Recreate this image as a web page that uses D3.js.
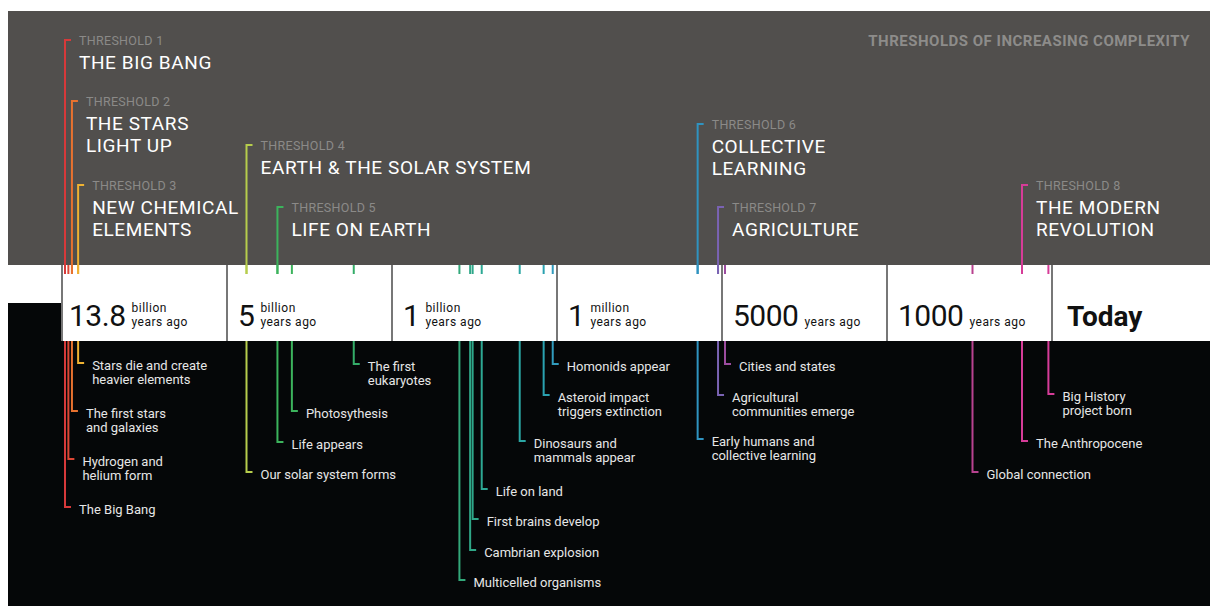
<!DOCTYPE html>
<html>
<head>
<meta charset="utf-8">
<script src="https://cdn.jsdelivr.net/npm/d3@7"></script>
<style>
  html, body { margin: 0; padding: 0; background: #fff; }
  svg text { font-family: Roboto, "Open Sans", sans-serif; }
</style>
</head>
<body>
<div id="chart"></div>
<script>
// timeline segments (years ago) and their labels
var segmentAgo = [13.8e9, 5e9, 1e9, 1e6, 5000, 1000, 0];
var segmentNumber = ["13.8", "5", "1", "1", "5000", "1000", "Today"];
var segmentUnit = ["billion", "billion", "billion", "million", "", "", ""];

// thresholds
var thresholdNames = ["THE BIG BANG", "THE STARS|LIGHT UP", "NEW CHEMICAL|ELEMENTS",
  "EARTH & THE SOLAR SYSTEM", "LIFE ON EARTH", "COLLECTIVE|LEARNING", "AGRICULTURE",
  "THE MODERN|REVOLUTION"];
var thresholdAgo = [13.8e9, 13.43e9, 13.1e9, 4.6e9, 3.85e9, 170000, 47000, 200];

// events below the timeline
var eventNames = ["The Big Bang", "Hydrogen and|helium form", "The first stars|and galaxies",
  "Stars die and create|heavier elements", "Our solar system forms", "Life appears",
  "Photosythesis", "The first|eukaryotes", "Multicelled organisms", "Cambrian explosion",
  "First brains develop", "Life on land", "Dinosaurs and|mammals appear",
  "Asteroid impact|triggers extinction", "Homonids appear", "Early humans and|collective learning",
  "Agricultural|communities emerge", "Cities and states", "Global connection",
  "The Anthropocene", "Big History|project born"];
var eventAgo = [13.8e9, 13.62e9, 13.43e9, 13.1e9, 4.6e9, 3.85e9, 3.5e9, 2e9,
  610e6, 545e6, 530e6, 475e6, 245e6, 100e6, 45e6, 170000, 47000, 5000, 500, 200, 40];

// --- layout / style ---
var W = 1210, H = 606;
var SEG_X0 = 62, SEG_W = 165;
var BAND_TOP = 265, BAND_BOT = 341;
var MARK_DX = 3;

var thresholdColor = ["#d6393a", "#e8722f", "#efb232", "#b6cd4c", "#3cb35c", "#2f93c0", "#7a63b3", "#d63c98"];
var thresholdLabelY = [40, 101, 185, 145, 207, 124, 207, 185];

var eventColor = ["#d6393a", "#dc4634", "#e8722f", "#efb232", "#b6cd4c", "#3cb35c", "#3cb35c", "#34ad68",
  "#33a87a", "#2fa787", "#2fa78a", "#2da894", "#2ba6a3", "#2aa1b0", "#319bbd", "#2f93c0",
  "#7a63b3", "#9c4c9f", "#b8428f", "#d63c98", "#d63c98"];
var eventLabelY = [507, 459, 411, 363, 472, 442, 411, 364, 580, 550, 519, 489, 441, 395, 364,
  439, 395, 364, 472, 441, 394];

var x = d3.scaleLinear()
  .domain(segmentAgo)
  .range(segmentAgo.map(function(d, i) { return SEG_X0 + i * SEG_W; }));
var mx = function(ago) { return x(ago) + MARK_DX; };

var svg = d3.select("#chart").append("svg").attr("width", W).attr("height", H);

// panels
svg.append("rect").attr("x", 8).attr("y", 11).attr("width", W - 8).attr("height", BAND_TOP - 11).attr("fill", "#514f4d");
svg.append("rect").attr("x", 8).attr("y", 303).attr("width", W - 8).attr("height", H - 303).attr("fill", "#050708");
svg.append("rect").attr("x", SEG_X0).attr("y", BAND_TOP).attr("width", W - SEG_X0).attr("height", BAND_BOT - BAND_TOP).attr("fill", "#fff");

svg.append("text").attr("x", 1190).attr("y", 46).attr("text-anchor", "end")
  .attr("fill", "#8d8c8a").attr("font-size", 15).attr("font-weight", "bold")
  .attr("letter-spacing", 0.5)
  .text("THRESHOLDS OF INCREASING COMPLEXITY");

// segment dividers and labels
var seg = svg.append("g").selectAll("g").data(segmentAgo).enter().append("g");
seg.append("line")
  .attr("x1", function(d) { return x(d); }).attr("x2", function(d) { return x(d); })
  .attr("y1", BAND_TOP).attr("y2", BAND_BOT)
  .attr("stroke", "#777").attr("stroke-width", 2);
seg.each(function(d, i) {
  var g = d3.select(this);
  var x0 = x(d) + (i === 0 ? 7 : i === 6 ? 15 : 11);
  var num = g.append("text").attr("x", x0).attr("y", 326).attr("fill", "#111")
    .attr("font-size", i === 6 ? 28 : 30).attr("font-weight", i === 6 ? "bold" : "normal")
    .attr("letter-spacing", i === 6 ? 0 : -0.5)
    .text(segmentNumber[i]);
  if (i === 6) return;
  var ux = x0 + num.node().getComputedTextLength() + 6;
  var unit = g.append("text").attr("x", ux).attr("y", segmentUnit[i] ? 312 : 326)
    .attr("fill", "#111").attr("font-size", 12).attr("letter-spacing", 0.5);
  var parts = segmentUnit[i] ? [segmentUnit[i], "years ago"] : ["years ago"];
  unit.selectAll("tspan").data(parts).enter().append("tspan")
    .attr("x", ux).attr("dy", function(p, j) { return j ? 14 : 0; })
    .text(function(p) { return p; });
});

// threshold lines and labels
var th = svg.append("g").selectAll("g").data(thresholdAgo).enter().append("g");
th.append("path")
  .attr("d", function(d, i) {
    var px = mx(d), py = thresholdLabelY[i];
    return "M" + (px + 6) + "," + py + "H" + px + "V" + (BAND_TOP + 9);
  })
  .attr("fill", "none").attr("stroke-width", 2)
  .attr("stroke", function(d, i) { return thresholdColor[i]; });
th.append("text")
  .attr("x", function(d) { return mx(d) + 14; })
  .attr("y", function(d, i) { return thresholdLabelY[i] + 5; })
  .attr("fill", "#8b8a88").attr("font-size", 12.5).attr("letter-spacing", 0.3)
  .text(function(d, i) { return "THRESHOLD " + (i + 1); });
th.each(function(d, i) {
  var lines = thresholdNames[i].split("|");
  var t = d3.select(this).append("text")
    .attr("x", mx(d) + 14).attr("y", thresholdLabelY[i] + 29)
    .attr("fill", "#fff").attr("font-size", 19).attr("letter-spacing", 0.6);
  t.selectAll("tspan").data(lines).enter().append("tspan")
    .attr("x", mx(d) + 14).attr("dy", function(l, j) { return j ? 22 : 0; })
    .text(function(l) { return l; });
});

// event ticks, lines and labels
var ev = svg.append("g").selectAll("g").data(eventAgo).enter().append("g");
ev.append("line")
  .attr("x1", function(d) { return mx(d); }).attr("x2", function(d) { return mx(d); })
  .attr("y1", BAND_TOP).attr("y2", BAND_TOP + 9)
  .attr("stroke-width", 2).attr("stroke", function(d, i) { return eventColor[i]; });
ev.append("path")
  .attr("d", function(d, i) {
    var px = mx(d), py = eventLabelY[i];
    return "M" + px + "," + BAND_BOT + "V" + py + "H" + (px + 6);
  })
  .attr("fill", "none").attr("stroke-width", 2)
  .attr("stroke", function(d, i) { return eventColor[i]; });
ev.each(function(d, i) {
  var lines = eventNames[i].split("|");
  var t = d3.select(this).append("text")
    .attr("x", mx(d) + 14).attr("y", eventLabelY[i] + 6.5)
    .attr("fill", "#e6e6e6").attr("font-size", 13);
  t.selectAll("tspan").data(lines).enter().append("tspan")
    .attr("x", mx(d) + 14).attr("dy", function(l, j) { return j ? 14 : 0; })
    .text(function(l) { return l; });
});
</script>
</body>
</html>
